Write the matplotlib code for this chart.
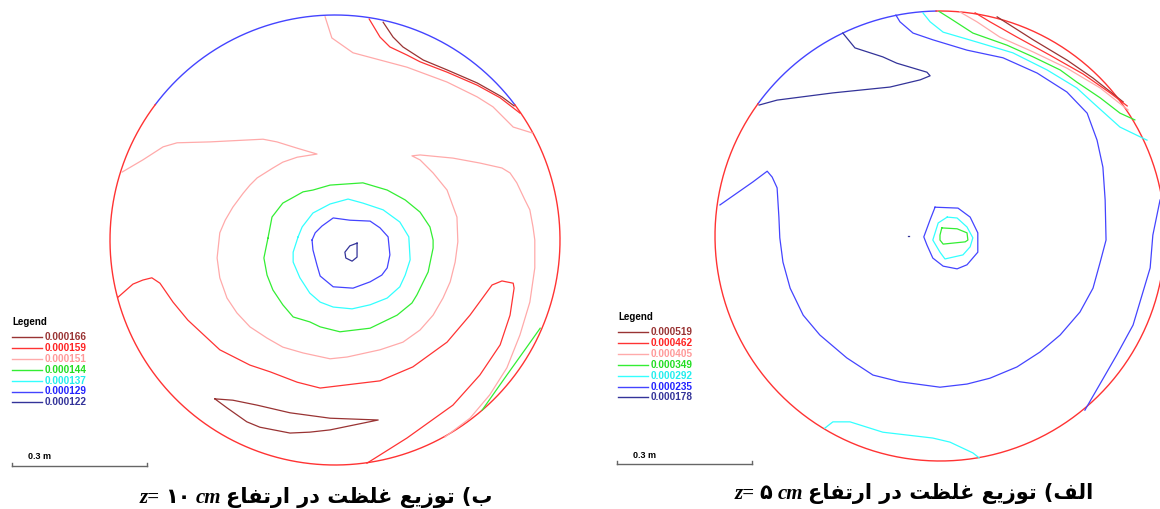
import numpy as np
import matplotlib
matplotlib.use("Agg")
import matplotlib.pyplot as plt

# contour levels (legend values) for both panels
levels_b = ["0.000166", "0.000159", "0.000151", "0.000144", "0.000137", "0.000129", "0.000122"]
levels_a = ["0.000519", "0.000462", "0.000405", "0.000349", "0.000292", "0.000235", "0.000178"]
line_colors = ["#993333", "#ff3333", "#ffaaaa", "#33ee33", "#33ffff", "#4444ff", "#333399"]
text_colors = ["#993333", "#ff2222", "#ff9999", "#22dd22", "#22eeee", "#2222ff", "#333399"]

R = 0.5  # tank radius, m

# ---- panel b (z = 10 cm), contour traces in metres: (x, y) ----
b_boundary = [(5, 37, 143), (1, 143, 397)]   # (level, start deg, end deg)

b_pink_spiral = [(-0.473, 0.151), (-0.427, 0.178), (-0.382, 0.207), (-0.351, 0.216), (-0.278, 0.218),
                 (-0.160, 0.224), (-0.129, 0.218), (-0.084, 0.204), (-0.040, 0.191), (-0.084, 0.184),
                 (-0.116, 0.173), (-0.138, 0.160), (-0.173, 0.138), (-0.189, 0.122), (-0.204, 0.104),
                 (-0.227, 0.073), (-0.244, 0.044), (-0.256, 0.016), (-0.262, -0.040), (-0.256, -0.084),
                 (-0.240, -0.129), (-0.218, -0.162), (-0.189, -0.193), (-0.151, -0.218), (-0.116, -0.238),
                 (-0.071, -0.251), (-0.011, -0.264), (0.027, -0.260), (0.100, -0.244), (0.151, -0.227),
                 (0.189, -0.200), (0.218, -0.167), (0.240, -0.129), (0.256, -0.093), (0.267, -0.049),
                 (0.273, -0.004), (0.271, 0.051), (0.249, 0.111), (0.218, 0.149), (0.189, 0.178),
                 (0.171, 0.187), (0.189, 0.189), (0.262, 0.182), (0.322, 0.171), (0.371, 0.160),
                 (0.389, 0.149), (0.404, 0.127), (0.422, 0.089), (0.433, 0.067), (0.440, 0.029),
                 (0.444, 0.000), (0.444, -0.062), (0.433, -0.138), (0.411, -0.211), (0.382, -0.284),
                 (0.344, -0.344), (0.300, -0.396), (0.244, -0.438)]
b_pink_top = [(-0.022, 0.496), (-0.007, 0.449), (0.040, 0.416), (0.100, 0.400), (0.160, 0.384),
              (0.249, 0.351), (0.316, 0.318), (0.351, 0.296), (0.396, 0.251), (0.438, 0.238)]
b_red_top = [(0.076, 0.491), (0.100, 0.451), (0.122, 0.429), (0.160, 0.411), (0.189, 0.396),
             (0.249, 0.373), (0.316, 0.344), (0.367, 0.316), (0.411, 0.282)]
b_darkred_top = [(0.107, 0.484), (0.129, 0.451), (0.151, 0.429), (0.196, 0.400), (0.249, 0.378),
                 (0.316, 0.349), (0.371, 0.318), (0.398, 0.298)]
b_red_hook = [(0.071, -0.496), (0.160, -0.440), (0.262, -0.367), (0.322, -0.300), (0.367, -0.233),
              (0.389, -0.167), (0.398, -0.107), (0.396, -0.096), (0.371, -0.091), (0.349, -0.100),
              (0.300, -0.167), (0.249, -0.227), (0.173, -0.282), (0.100, -0.313), (-0.033, -0.329),
              (-0.084, -0.316), (-0.144, -0.293), (-0.189, -0.278), (-0.256, -0.244), (-0.284, -0.218),
              (-0.327, -0.178), (-0.360, -0.138), (-0.389, -0.096), (-0.407, -0.084), (-0.427, -0.089),
              (-0.449, -0.098), (-0.482, -0.127)]
b_green_edge = [(0.456, -0.196), (0.422, -0.244), (0.382, -0.300), (0.327, -0.378)]
b_darkred_lens = [(-0.267, -0.353), (-0.227, -0.356), (-0.173, -0.367), (-0.100, -0.384), (-0.011, -0.396),
                  (0.096, -0.400), (-0.011, -0.422), (-0.056, -0.427), (-0.100, -0.429), (-0.167, -0.416),
                  (-0.196, -0.404), (-0.240, -0.373)]
b_green_ring = [(-0.149, 0.004), (-0.140, 0.051), (-0.116, 0.082), (-0.096, 0.093), (-0.071, 0.107),
                (-0.049, 0.111), (-0.011, 0.122), (0.062, 0.127), (0.116, 0.111), (0.156, 0.089),
                (0.189, 0.062), (0.211, 0.029), (0.218, 0.000), (0.218, -0.018), (0.207, -0.071),
                (0.182, -0.122), (0.171, -0.140), (0.138, -0.167), (0.078, -0.196), (0.011, -0.204),
                (-0.033, -0.193), (-0.056, -0.182), (-0.093, -0.171), (-0.116, -0.144), (-0.138, -0.111),
                (-0.151, -0.078), (-0.158, -0.040)]
b_cyan_ring = [(-0.082, 0.007), (-0.073, 0.029), (-0.049, 0.060), (-0.011, 0.080), (0.029, 0.091),
               (0.062, 0.082), (0.107, 0.067), (0.144, 0.040), (0.164, 0.007), (0.167, -0.044),
               (0.156, -0.078), (0.144, -0.104), (0.116, -0.129), (0.078, -0.144), (0.038, -0.153),
               (-0.004, -0.149), (-0.033, -0.138), (-0.056, -0.118), (-0.078, -0.084), (-0.093, -0.049),
               (-0.093, -0.027)]
b_blue_ring = [(-0.051, 0.000), (-0.044, 0.016), (-0.029, 0.031), (-0.004, 0.049), (0.033, 0.044),
               (0.078, 0.042), (0.100, 0.027), (0.118, 0.007), (0.122, -0.033), (0.116, -0.062),
               (0.104, -0.078), (0.078, -0.093), (0.040, -0.107), (-0.004, -0.104), (-0.033, -0.080),
               (-0.040, -0.056), (-0.049, -0.022)]
b_navy_drop = [(0.049, -0.007), (0.049, -0.038), (0.038, -0.047), (0.024, -0.040), (0.022, -0.027),
               (0.033, -0.013)]

b_traces = [(2, b_pink_spiral, False), (2, b_pink_top, False), (1, b_red_top, False),
            (0, b_darkred_top, False), (1, b_red_hook, False), (3, b_green_edge, False),
            (0, b_darkred_lens, True), (3, b_green_ring, True), (4, b_cyan_ring, True),
            (5, b_blue_ring, True), (6, b_navy_drop, True)]

# ---- panel a (z = 5 cm) ----
a_boundary = [(5, 91, 144), (1, 144, 451)]

a_darkred_top = [(0.127, 0.487), (0.207, 0.436), (0.282, 0.391), (0.340, 0.351), (0.407, 0.298)]
a_red_top = [(0.078, 0.496), (0.111, 0.476), (0.171, 0.442), (0.244, 0.402), (0.318, 0.360),
             (0.378, 0.318), (0.416, 0.289)]
a_pink_top = [(0.044, 0.498), (0.082, 0.476), (0.133, 0.442), (0.207, 0.409), (0.282, 0.373),
              (0.356, 0.329), (0.418, 0.280)]
a_green_top = [(-0.002, 0.499), (0.022, 0.484), (0.073, 0.451), (0.149, 0.424), (0.207, 0.398),
               (0.267, 0.369), (0.304, 0.342), (0.356, 0.307), (0.400, 0.273), (0.433, 0.258)]
a_cyan_top = [(-0.038, 0.496), (-0.022, 0.476), (0.007, 0.453), (0.082, 0.431), (0.162, 0.407),
              (0.238, 0.369), (0.304, 0.329), (0.340, 0.296), (0.400, 0.242), (0.460, 0.213)]
a_blue_band = [(-0.098, 0.491), (-0.089, 0.476), (-0.060, 0.451), (-0.016, 0.436), (0.060, 0.413),
               (0.140, 0.396), (0.216, 0.362), (0.282, 0.320), (0.327, 0.273), (0.349, 0.213),
               (0.362, 0.153), (0.367, 0.080), (0.369, -0.009), (0.356, -0.058), (0.340, -0.116),
               (0.311, -0.169), (0.267, -0.220), (0.222, -0.258), (0.171, -0.291), (0.111, -0.316),
               (0.060, -0.329), (0.000, -0.336), (-0.089, -0.324), (-0.149, -0.309), (-0.207, -0.271),
               (-0.267, -0.220), (-0.304, -0.176), (-0.333, -0.116), (-0.349, -0.058), (-0.356, -0.004),
               (-0.358, 0.042), (-0.362, 0.107), (-0.373, 0.131), (-0.384, 0.144), (-0.416, 0.120),
               (-0.489, 0.069)]
a_navy_top = [(-0.216, 0.451), (-0.189, 0.418), (-0.127, 0.398), (-0.096, 0.384), (-0.029, 0.364),
              (-0.022, 0.356), (-0.044, 0.347), (-0.111, 0.331), (-0.238, 0.318), (-0.362, 0.302),
              (-0.402, 0.291)]
a_blue_edge = [(0.489, 0.080), (0.473, 0.002), (0.467, -0.071), (0.429, -0.198), (0.393, -0.264),
               (0.322, -0.387)]
a_blue_core = [(-0.011, 0.064), (0.040, 0.062), (0.067, 0.042), (0.084, 0.007), (0.084, -0.036),
               (0.060, -0.064), (0.038, -0.073), (0.007, -0.067), (-0.016, -0.049), (-0.029, -0.020),
               (-0.036, -0.002), (-0.022, 0.036)]
a_cyan_core = [(0.016, 0.042), (0.038, 0.040), (0.060, 0.020), (0.073, -0.004), (0.067, -0.024),
               (0.051, -0.042), (0.011, -0.051), (0.000, -0.036), (-0.016, -0.009), (-0.004, 0.029)]
a_green_core = [(0.004, 0.018), (0.038, 0.016), (0.060, 0.007), (0.062, -0.009), (0.056, -0.013),
                (0.007, -0.018), (0.000, -0.009), (0.000, 0.002)]
a_cyan_bottom = [(-0.256, -0.427), (-0.238, -0.413), (-0.200, -0.413), (-0.127, -0.436), (-0.016, -0.449),
                 (0.022, -0.458), (0.073, -0.482), (0.087, -0.493)]
a_navy_dot = [(-0.071, 0.000), (-0.069, 0.000)]

a_traces = [(0, a_darkred_top, False), (1, a_red_top, False), (2, a_pink_top, False),
            (3, a_green_top, False), (4, a_cyan_top, False), (5, a_blue_band, False),
            (6, a_navy_top, False), (5, a_blue_edge, False), (5, a_blue_core, True),
            (4, a_cyan_core, True), (3, a_green_core, True), (4, a_cyan_bottom, False),
            (6, a_navy_dot, False)]

# Persian captions (visual order, presentation forms)
fa_ertefa = "\ufec9\ufe8e\ufed4\ufe97\ufead\ufe8d"
fa_dar = "\ufead\ufea9"
fa_gholzat = "\ufe96\ufec8\ufee0\ufecf"
fa_tozi = "\ufeca\ufef3\ufeaf\ufeee\ufe97"
fa_alef = "\ufed2\ufedf\ufe8d"
fa_be = "\ufe8f"

W, H = 1160, 509
PPM = 450.0  # pixels per metre in the picture

fig = plt.figure(figsize=(W / 100, H / 100), dpi=100)


def panel(x0, x1, cx, cy, y1=480):
    ax = fig.add_axes([x0 / W, 1 - y1 / H, (x1 - x0) / W, y1 / H])
    ax.set_xlim((x0 - cx) / PPM, (x1 - cx) / PPM)
    ax.set_ylim((cy - y1) / PPM, cy / PPM)
    ax.axis("off")
    return ax


def draw_panel(ax, boundary, traces):
    for lev, a0, a1 in boundary:
        t = np.radians(np.linspace(a0, a1, 300))
        ax.plot(R * np.cos(t), R * np.sin(t), color=line_colors[lev], lw=1.0)
    for lev, pts, closed in traces:
        pts = list(pts) + ([pts[0]] if closed else [])
        xs, ys = zip(*pts)
        ax.plot(xs, ys, color=line_colors[lev], lw=0.9)


def scale_bar(ax, x0, y):
    ax.plot([x0, x0 + 0.3], [y, y], color="#666666", lw=1)
    for xx in (x0, x0 + 0.3):
        ax.plot([xx, xx], [y, y + 0.006], color="#666666", lw=1)
    ax.text(x0 + 0.036, y + 0.01, "0.3 m", fontsize=6.5, fontweight="bold",
            family="Liberation Sans", va="bottom", ha="left")


axb = panel(0, 590, 335, 240)
draw_panel(axb, b_boundary, b_traces)
scale_bar(axb, -0.718, -0.502)

axa = panel(590, 1160, 940, 236)
draw_panel(axa, a_boundary, a_traces)
scale_bar(axa, -0.718, -0.507)

ov = fig.add_axes([0, 0, 1, 1])
ov.set_xlim(0, W)
ov.set_ylim(H, 0)
ov.axis("off")


def legend(x, y_title, y_first, labels):
    ov.text(x, y_title, "Legend", fontsize=7, fontweight="bold", family="Liberation Sans",
            va="center", ha="left")
    for i, lab in enumerate(labels):
        y = y_first + i * 10.9
        ov.plot([x, x + 30], [y, y], color=line_colors[i], lw=1)
        ov.text(x + 33, y, lab, fontsize=7.2, fontweight="bold", family="Liberation Sans",
                color=text_colors[i], va="center", ha="left")


legend(12, 322, 337, levels_b)
legend(618, 317, 332, levels_a)


def caption(xc, yb, pieces, size=15):
    r = fig.canvas.get_renderer()
    arts = []
    for s, kw in pieces:
        arts.append(ov.text(0, yb, s, va="baseline", ha="left", fontsize=size, fontweight="bold", **kw))
    widths = [t.get_window_extent(r).width for t in arts]
    gap = 5
    x = xc - (sum(widths) + gap * (len(arts) - 1)) / 2
    for t, w in zip(arts, widths):
        t.set_x(x)
        x += w + gap


serif_it = dict(family="Liberation Serif", style="italic")
fa = dict(family=["DejaVu Sans"])
caption(316, 503, [("z=", serif_it), ("\u06f1\u06f0", fa), ("cm", serif_it),
                   (fa_ertefa + " " + fa_dar + " " + fa_gholzat + " " + fa_tozi + " (" + fa_be, fa)])
caption(914, 499, [("z=", serif_it), ("\u06f5", fa), ("cm", serif_it),
                   (fa_ertefa + " " + fa_dar + " " + fa_gholzat + " " + fa_tozi + " (" + fa_alef, fa)])

fig.savefig("out.png", dpi=100)
